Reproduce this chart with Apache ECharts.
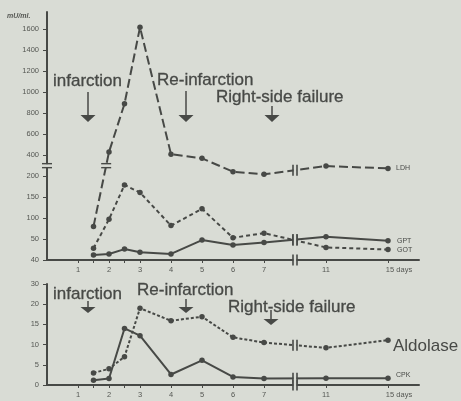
<!DOCTYPE html>
<html>
<head>
<meta charset="utf-8">
<script src="https://cdn.jsdelivr.net/npm/echarts@6/dist/echarts.min.js"></script>
<style>
  html, body { margin: 0; padding: 0; background: #d9dcd5; }
  #c { width: 461px; height: 401px; }
</style>
</head>
<body>
<div id="c"></div>
<script>
// Sampling days after admission
const days = [1.5, 2, 2.5, 3, 4, 5, 6, 7, 11, 15];

// Upper panel (mU/ml.)
const ldh = [80, 430, 890, 1620, 410, 370, 242, 217, 296, 274];
const got = [45.6, 97, 179, 161, 82, 122, 53, 64, 46, 45];
const gpt = [42.4, 42.9, 45.2, 43.7, 42.9, 49.5, 47.2, 48.4, 55.6, 49.2];

// Lower panel
const aldolase = [3, 4, 7, 19, 15.9, 16.9, 11.8, 10.5, 9.2, 11.1];
const cpk = [1.2, 1.6, 14, 12.2, 2.6, 6.1, 2, 1.6, 1.7, 1.7];

// Tick values of the broken scales (evenly spaced on the page)
const upperTicks = [40, 50, 100, 150, 200, 400, 600, 800, 1000, 1200, 1400, 1600];
const lowerTicks = [0, 5, 10, 15, 20, 30];
const dayTicks = [0, 1, 2, 3, 4, 5, 6, 7, 11, 15];
const daySlots = [0, 1, 2, 3, 4, 5, 6, 7, 9, 11];
const minorDays = [1.5, 2.5];

// Event annotations
const events = ['infarction', 'Re-infarction', 'Right-side failure'];

const INK = '#474946';
const BG = '#d9dcd5';
const TICK_INK = '#555753';

// Piecewise-linear mapping used to build the broken axes
function piecewise(knots, slots) {
  return function (v) {
    for (let i = 1; i < knots.length; i++) {
      if (v <= knots[i] || i === knots.length - 1) {
        const t = (v - knots[i - 1]) / (knots[i] - knots[i - 1]);
        return slots[i - 1] + t * (slots[i] - slots[i - 1]);
      }
    }
  };
}
const upperY = piecewise(upperTicks, upperTicks.map((_, i) => i));
const lowerY = piecewise(lowerTicks, lowerTicks.map((_, i) => i));
const dayX = piecewise(dayTicks, daySlots);

const points = (vals, fy) => days.map((d, i) => [dayX(d), fy(vals[i])]);

// Break positions
const xBreak = (dayX(7) + dayX(11)) / 2;
function breakAt(vals, fy) {
  const a = days.indexOf(7), b = days.indexOf(11);
  return [xBreak, (fy(vals[a]) + fy(vals[b])) / 2];
}
const yBreak = 4.5; // between 200 and 400 on the upper scale
function crossing(vals, fy, level) {
  for (let i = 1; i < vals.length; i++) {
    const y0 = fy(vals[i - 1]), y1 = fy(vals[i]);
    if ((y0 - level) * (y1 - level) < 0) {
      const x0 = dayX(days[i - 1]), x1 = dayX(days[i]);
      return [x0 + (level - y0) / (y1 - y0) * (x1 - x0), level];
    }
  }
  return null;
}

const tickFont = { fontSize: 7.5, color: TICK_INK, fontFamily: 'Liberation Sans Narrow, Liberation Sans, sans-serif' };

function xAxisFor(gridIndex) {
  return {
    type: 'value', gridIndex, min: 0, max: 12,
    axisLine: { show: true, onZero: false, lineStyle: { color: INK, width: 2 } },
    axisTick: {
      show: true, length: 3, lineStyle: { color: INK, width: 1 },
      customValues: dayTicks.slice(1).map(dayX).concat(minorDays.map(dayX))
    },
    axisLabel: Object.assign({
      margin: 6,
      customValues: dayTicks.slice(1).map(dayX),
      formatter: function (v) {
        const i = daySlots.indexOf(Math.round(v * 100) / 100);
        if (i < 0) return '';
        if (i === dayTicks.length - 1) return '{p|}' + dayTicks[i] + ' days';
        return String(dayTicks[i]);
      },
      rich: { p: { width: 22 } }
    }, tickFont),
    splitLine: { show: false }
  };
}

function yAxisFor(gridIndex, ticks, max) {
  return {
    type: 'value', gridIndex, min: 0, max,
    axisLine: { show: true, onZero: false, lineStyle: { color: INK, width: 2 } },
    axisTick: {
      show: true, length: 4, lineStyle: { color: INK, width: 1 },
      customValues: ticks.map((_, i) => i)
    },
    axisLabel: Object.assign({
      margin: 8,
      customValues: ticks.map((_, i) => i),
      formatter: function (v) {
        const i = Math.round(v);
        return Math.abs(v - i) < 1e-6 && ticks[i] !== undefined ? String(ticks[i]) : '';
      }
    }, tickFont),
    splitLine: { show: false }
  };
}

function lineSeries(name, data, xi, yi, dash, label) {
  return {
    name, type: 'line', xAxisIndex: xi, yAxisIndex: yi, data,
    symbol: 'circle', symbolSize: 5.5,
    itemStyle: { color: INK },
    lineStyle: { color: INK, width: 2, type: dash },
    endLabel: Object.assign({ show: true, formatter: name, color: INK, distance: 8 }, label),
    z: 3, silent: true, animation: false
  };
}

// "||" cut marks for the day-axis break
function vBreakSeries(xi, yi, data) {
  return {
    type: 'custom', xAxisIndex: xi, yAxisIndex: yi, data, clip: false, z: 5, silent: true,
    renderItem: function (params, api) {
      const p = api.coord([api.value(0), api.value(1)]);
      const h = 11, g = 3;
      return {
        type: 'group', children: [
          { type: 'rect', shape: { x: p[0] - g / 2, y: p[1] - h / 2, width: g, height: h }, style: { fill: BG } },
          { type: 'line', shape: { x1: p[0] - g / 2 - 0.5, y1: p[1] - h / 2, x2: p[0] - g / 2 - 0.5, y2: p[1] + h / 2 }, style: { stroke: INK, lineWidth: 1.6 } },
          { type: 'line', shape: { x1: p[0] + g / 2 + 0.5, y1: p[1] - h / 2, x2: p[0] + g / 2 + 0.5, y2: p[1] + h / 2 }, style: { stroke: INK, lineWidth: 1.6 } }
        ]
      };
    }
  };
}

// "=" cut marks for the value-axis break
function hBreakSeries(xi, yi, data) {
  return {
    type: 'custom', xAxisIndex: xi, yAxisIndex: yi, data, clip: false, z: 5, silent: true,
    renderItem: function (params, api) {
      const p = api.coord([api.value(0), api.value(1)]);
      const w = 10, g = 3;
      return {
        type: 'group', children: [
          { type: 'rect', shape: { x: p[0] - w / 2, y: p[1] - g / 2, width: w, height: g }, style: { fill: BG } },
          { type: 'line', shape: { x1: p[0] - w / 2, y1: p[1] - g / 2 - 0.5, x2: p[0] + w / 2, y2: p[1] - g / 2 - 0.5 }, style: { stroke: INK, lineWidth: 1.4 } },
          { type: 'line', shape: { x1: p[0] - w / 2, y1: p[1] + g / 2 + 0.5, x2: p[0] + w / 2, y2: p[1] + g / 2 + 0.5 }, style: { stroke: INK, lineWidth: 1.4 } }
        ]
      };
    }
  };
}

function arrow(x, yTop, yTip, headH, headW) {
  return {
    type: 'group', silent: true, children: [
      { type: 'line', shape: { x1: x, y1: yTop, x2: x, y2: yTip - headH }, style: { stroke: INK, lineWidth: 1.5 } },
      { type: 'polygon', shape: { points: [[x - headW / 2, yTip - headH], [x + headW / 2, yTip - headH], [x, yTip]] }, style: { fill: INK } }
    ]
  };
}

const noteFont = { fill: INK, fontSize: 17, fontFamily: 'Liberation Sans, Arial, sans-serif' };
function note(text, x, y) {
  return { type: 'text', x, y, silent: true, style: Object.assign({ text, verticalAlign: 'middle', align: 'left', stroke: INK, lineWidth: 0.3 }, noteFont) };
}

const ldhCut = crossing(ldh, upperY, yBreak);

const option = {
  backgroundColor: BG,
  animation: false,
  grid: [
    { left: 47, top: 12, width: 372, height: 248 },
    { left: 47, top: 284, width: 372, height: 101 }
  ],
  xAxis: [xAxisFor(0), xAxisFor(1)],
  yAxis: [yAxisFor(0, upperTicks, 11.83), yAxisFor(1, lowerTicks, 5)],
  series: [
    lineSeries('LDH', points(ldh, upperY), 0, 0, [9, 4], { fontSize: 7 }),
    lineSeries('GOT', points(got, upperY), 0, 0, [4, 3], { fontSize: 7, offset: [1, 1] }),
    lineSeries('GPT', points(gpt, upperY), 0, 0, 'solid', { fontSize: 7, offset: [1, 0] }),
    lineSeries('Aldolase', points(aldolase, lowerY), 1, 1, [3, 2], { fontSize: 17, distance: 5, offset: [0, 6], fontFamily: 'Liberation Sans, Arial, sans-serif' }),
    lineSeries('CPK', points(cpk, lowerY), 1, 1, 'solid', { fontSize: 7, offset: [0, -3] }),
    vBreakSeries(0, 0, [breakAt(ldh, upperY), breakAt(got, upperY), breakAt(gpt, upperY), [xBreak, 0]]),
    vBreakSeries(1, 1, [breakAt(aldolase, lowerY), breakAt(cpk, lowerY), [xBreak, 0]]),
    hBreakSeries(0, 0, [[0, yBreak]].concat(ldhCut ? [ldhCut] : []))
  ],
  graphic: [
    { type: 'text', x: 7, y: 13, silent: true, style: { text: 'mU/ml.', fill: TICK_INK, font: 'italic bold 7px Liberation Sans, sans-serif' } },
    // upper panel events
    note(events[0], 53, 81),
    arrow(88, 92, 122, 7, 15),
    note(events[1], 157, 80),
    arrow(186, 91, 122, 7, 15),
    note(events[2], 216, 97),
    arrow(272, 106, 122, 7, 15),
    // lower panel events
    note(events[0], 53, 294),
    arrow(88, 301, 313, 6, 15),
    note(events[1], 137, 290),
    arrow(186, 299, 313, 6, 15),
    note(events[2], 228, 307),
    arrow(271, 310, 325, 6, 15)
  ]
};

const chart = echarts.init(document.getElementById('c'));
chart.setOption(option);
</script>
</body>
</html>
